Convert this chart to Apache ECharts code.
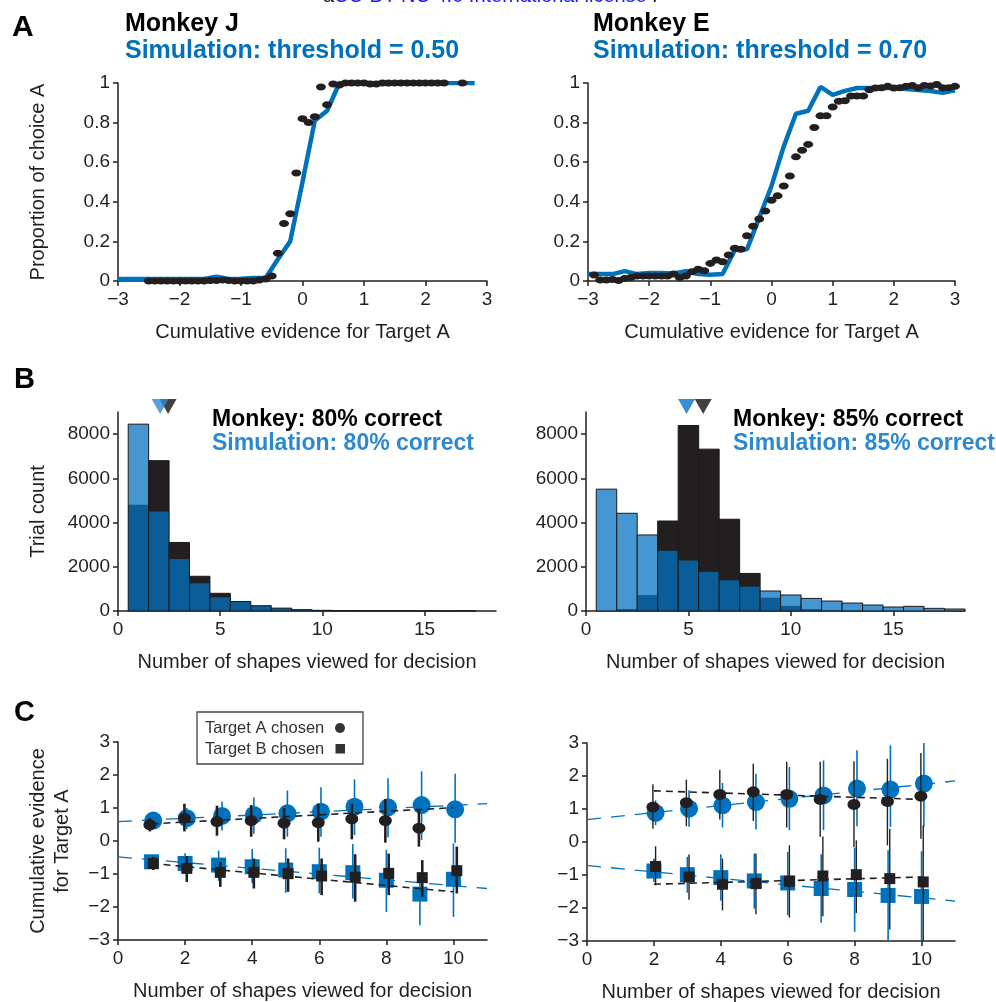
<!DOCTYPE html>
<html><head><meta charset="utf-8">
<script src="https://cdn.jsdelivr.net/npm/echarts@6/dist/echarts.min.js"></script>
<style>html,body{margin:0;padding:0;background:#fff}#c{width:996px;height:1002px}</style>
</head><body><div id="c"></div>
<script>
// ---------- Panel A: psychometric curves ----------
const aJ_simX = [-3,-2.8,-2.6,-2.4,-2.2,-2,-1.8,-1.6,-1.4,-1.2,-1,-0.8,-0.6,-0.4,-0.2,0,0.2,0.4,0.6,0.8,1,1.2,1.4,1.6,1.8,2,2.2,2.4,2.6,2.8];
const aJ_simY = [0.01,0.01,0.01,0.01,0.01,0.01,0.01,0.01,0.022,0.01,0.012,0.015,0.015,0.11,0.2,0.5,0.81,0.86,1,1,1,1,0.995,1,1,1,1,1,1,1];
const aJ_monX = [-2.5,-2.4,-2.3,-2.2,-2.1,-2,-1.9,-1.8,-1.7,-1.6,-1.5,-1.4,-1.3,-1.2,-1.1,-1,-0.9,-0.8,-0.7,-0.6,-0.5,-0.4,-0.3,-0.2,-0.1,0,0.1,0.2,0.3,0.4,0.5,0.6,0.7,0.8,0.9,1,1.1,1.2,1.3,1.4,1.5,1.6,1.7,1.8,1.9,2,2.1,2.2,2.3,2.6];
const aJ_monY = [0,0,0,0,0,0,0,0,0,0,0.003,0.003,0.005,0.003,0,0,0,0,0.005,0.01,0.025,0.14,0.29,0.34,0.545,0.82,0.8,0.83,0.98,0.89,0.995,0.99,1,1,1,1,0.995,0.995,1,1,1,1,1,1,1,1,1,1,1,1];

const aE_simX = [-3,-2.8,-2.6,-2.4,-2.2,-2,-1.8,-1.6,-1.4,-1.2,-1,-0.8,-0.6,-0.4,-0.2,0,0.2,0.4,0.6,0.8,1,1.2,1.4,1.6,1.8,2,2.2,2.4,2.6,2.8,3];
const aE_simY = [0.035,0.035,0.035,0.05,0.035,0.04,0.04,0.038,0.05,0.035,0.032,0.035,0.156,0.16,0.32,0.48,0.68,0.845,0.86,0.98,0.94,0.96,0.975,0.975,0.975,0.975,0.97,0.965,0.96,0.95,0.963];
const aE_monX = [-2.9,-2.8,-2.7,-2.6,-2.5,-2.4,-2.3,-2.2,-2.1,-2,-1.9,-1.8,-1.7,-1.6,-1.5,-1.4,-1.3,-1.2,-1.1,-1,-0.9,-0.8,-0.7,-0.6,-0.5,-0.4,-0.3,-0.2,-0.1,0,0.1,0.2,0.3,0.4,0.5,0.6,0.7,0.8,0.9,1,1.1,1.2,1.3,1.4,1.5,1.6,1.7,1.8,1.9,2,2.1,2.2,2.3,2.4,2.5,2.6,2.7,2.8,2.9,3];
const aE_monY = [0.03,0.005,0.005,0.008,0.002,0.013,0.018,0.025,0.025,0.025,0.025,0.025,0.025,0.035,0.018,0.025,0.047,0.059,0.052,0.089,0.106,0.097,0.131,0.165,0.16,0.229,0.277,0.313,0.353,0.408,0.43,0.48,0.53,0.627,0.66,0.69,0.775,0.834,0.834,0.879,0.908,0.91,0.934,0.934,0.934,0.966,0.975,0.976,0.983,0.975,0.976,0.983,0.988,0.976,0.988,0.985,0.992,0.976,0.976,0.983];

// ---------- Panel B: histograms ----------
const hJ_bins    = [1,2,3,4,5,6,7,8,9,10,11,12,13,14,15,16,17];
const hJ_monkey  = [4800,6800,3100,1570,800,420,240,130,60,30,20,15,10,8,5,5,5];
const hJ_sim     = [8450,4500,2350,1250,620,430,240,130,60,30,15,10,8,5,3,3,2];
const hJ_meanX   = [2.06,2.45];   // simulation, monkey
const hE_bins    = [1,2,3,4,5,6,7,8,9,10,11,12,13,14,15,16,17,18];
const hE_monkey  = [0,90,720,4070,8390,7320,4150,1700,600,230,90,40,25,15,10,5,5,5];
const hE_sim     = [5510,4420,3440,2730,2280,1770,1390,1100,905,725,570,450,360,270,180,210,120,90];
const hE_meanX   = [4.91,5.72];   // simulation, monkey
const meanMarkY  = 9250;

// ---------- Panel C: evidence vs number of shapes ----------
const cJ_simAx  = [1.05,2.05,3.1,4.05,5.05,6.05,7.05,8.05,9.05,10.05];
const cJ_simA   = [0.62,0.69,0.76,0.79,0.84,0.89,1.04,1.02,1.09,0.96];
const cJ_simAlo = [0.45,0.36,0.32,0.22,0.13,0.13,0.18,0.11,0.03,-0.05];
const cJ_simAhi = [0.80,1.00,1.19,1.32,1.53,1.63,1.87,1.90,2.11,2.04];
const cJ_monAx  = [0.95,1.98,2.95,3.97,4.95,5.97,6.97,7.97,8.97];
const cJ_monA   = [0.49,0.69,0.59,0.62,0.54,0.56,0.67,0.62,0.39];
const cJ_monAlo = [0.29,0.29,0.16,0.13,0.05,-0.02,0.05,-0.05,-0.17];
const cJ_monAhi = [0.69,1.13,1.07,1.09,1.00,1.13,1.13,1.27,0.94];
const cJ_simBx  = [1,2,3,4,5,6,7,8,9,10];
const cJ_simB   = [-0.63,-0.68,-0.73,-0.78,-0.88,-0.93,-0.96,-1.19,-1.61,-1.16];
const cJ_simBlo = [-0.84,-0.98,-1.21,-1.27,-1.57,-1.59,-1.74,-2.15,-2.55,-2.30];
const cJ_simBhi = [-0.48,-0.37,-0.29,-0.24,-0.22,-0.20,-0.09,-0.27,-0.96,-0.07];
const cJ_monBx  = [1.05,2.05,3.05,4.05,5.07,6.07,7.07,8.07,9.07,10.1];
const cJ_monB   = [-0.68,-0.83,-0.95,-0.95,-0.99,-1.06,-1.10,-0.98,-1.11,-0.90];
const cJ_monBlo = [-0.88,-1.24,-1.39,-1.44,-1.54,-1.64,-1.84,-1.64,-1.69,-1.59];
const cJ_monBhi = [-0.48,-0.46,-0.63,-0.53,-0.53,-0.53,-0.40,-0.38,-0.58,-0.17];
const cJ_monFitX = [1,10],  cJ_monFitA = [0.52,1.01],  cJ_monFitB = [-0.68,-1.54];
const cJ_simFitX = [0,11],  cJ_simFitA = [0.59,1.13],  cJ_simFitB = [-0.48,-1.44];

const cE_simAx  = [2.05,3.05,4.05,5.05,6.05,7.07,8.07,9.07,10.07];
const cE_simA   = [0.88,1.01,1.11,1.21,1.31,1.41,1.62,1.59,1.77];
const cE_simAlo = [0.51,0.46,0.44,0.38,0.36,0.36,0.48,0.46,0.46];
const cE_simAhi = [1.26,1.57,1.79,2.07,2.27,2.47,2.78,2.93,3.0];
const cE_monAx  = [1.97,2.97,3.97,4.97,5.97,6.97,7.98,8.98,9.98];
const cE_monA   = [1.06,1.19,1.44,1.52,1.44,1.29,1.14,1.23,1.39];
const cE_monAlo = [0.40,0.48,0.68,0.64,0.44,0.15,-0.15,-0.10,0.10];
const cE_monAhi = [1.75,1.89,2.19,2.37,2.43,2.43,2.45,2.52,2.70];
const cE_simBx  = [2,3,4,5,6,7,8,9,10];
const cE_simB   = [-0.88,-0.99,-1.08,-1.18,-1.24,-1.41,-1.44,-1.62,-1.65];
const cE_simBlo = [-1.21,-1.54,-1.78,-2.02,-2.22,-2.45,-2.72,-3.0,-3.0];
const cE_simBhi = [-0.50,-0.45,-0.37,-0.35,-0.30,-0.37,-0.17,-0.25,-0.28];
const cE_monBx  = [2.05,3.05,4.05,5.05,6.05,7.05,8.05,9.05,10.05];
const cE_monB   = [-0.74,-1.06,-1.28,-1.26,-1.19,-1.03,-0.99,-1.11,-1.21];
const cE_monBlo = [-1.31,-1.75,-2.07,-2.19,-2.29,-2.25,-2.15,-2.65,-3.0];
const cE_monBhi = [-0.13,-0.38,-0.50,-0.35,-0.10,0.17,0.05,0.40,0.50];
const cE_monFitX = [2,10],  cE_monFitA = [1.55,1.29],  cE_monFitB = [-1.28,-1.06];
const cE_simFitX = [0,11],  cE_simFitA = [0.68,1.85],  cE_simFitB = [-0.71,-1.79];

// ---------- tick values ----------
const ticksA_x = [-3,-2,-1,0,1,2,3];
const ticksA_y = [0,0.2,0.4,0.6,0.8,1];
const ticksB_x = [0,5,10,15];
const ticksB_y = [0,2000,4000,6000,8000];
const ticksC_x = [0,2,4,6,8,10];
const ticksC_y = [-3,-2,-1,0,1,2,3];

// ---------- styling ----------
const FONT = '"Liberation Sans", Arial, Helvetica, sans-serif';
const INK = '#231f20';
const SIM = '#0072bd';
const SIM_LIGHT = '#4696d1';
const SIM_DARK = '#0b5d97';
const SIM_TEXT = '#2b89d2';

const zip = (xs, ys) => xs.map((x, i) => [x, ys[i]]);
const zip3 = (xs, a, b) => xs.map((x, i) => [x, a[i], b[i]]);
const fmt = v => (v < 0 ? '\u2212' + Math.abs(v) : String(v));

function xAx(gi, min, max, ticks, name) {
  return {
    type: 'value', gridIndex: gi, min, max,
    axisLine: { show: true, onZero: false, lineStyle: { color: INK, width: 1.5 } },
    axisTick: { show: true, inside: false, length: 5, customValues: ticks, lineStyle: { color: INK, width: 1.5 } },
    axisLabel: { show: true, customValues: ticks, formatter: fmt, fontSize: 19, fontFamily: FONT, color: INK, margin: 9 },
    splitLine: { show: false },
    name: name || '', nameLocation: 'middle', nameGap: 41,
    nameTextStyle: { fontSize: 20, fontFamily: FONT, color: INK }
  };
}
function yAx(gi, min, max, ticks, name, gap) {
  return {
    type: 'value', gridIndex: gi, min, max,
    axisLine: { show: true, onZero: false, lineStyle: { color: INK, width: 1.5 } },
    axisTick: { show: true, inside: false, length: 5, customValues: ticks, lineStyle: { color: INK, width: 1.5 } },
    axisLabel: { show: true, customValues: ticks, formatter: fmt, fontSize: 19, fontFamily: FONT, color: INK, margin: 8 },
    splitLine: { show: false },
    name: name || '', nameLocation: 'middle', nameGap: gap || 70,
    nameTextStyle: { fontSize: 20, fontFamily: FONT, color: INK, lineHeight: 24 }
  };
}

function histSeries(gi, bins, mon, sim) {
  return {
    type: 'custom', xAxisIndex: gi, yAxisIndex: gi, clip: false, z: 2,
    data: zip3(bins, mon, sim),
    encode: { x: 0, y: [1, 2] },
    renderItem: function (params, api) {
      const x = api.value(0), m = api.value(1), s = api.value(2);
      const big = Math.max(m, s), small = Math.min(m, s);
      const tl = api.coord([x - 0.5, big]), br = api.coord([x + 0.5, 0]);
      const ts = api.coord([x - 0.5, small]);
      return {
        type: 'group', children: [
          { type: 'rect', shape: { x: tl[0], y: tl[1], width: br[0] - tl[0], height: br[1] - tl[1] }, style: { fill: m > s ? INK : SIM_LIGHT } },
          { type: 'rect', shape: { x: ts[0], y: ts[1], width: br[0] - ts[0], height: br[1] - ts[1] }, style: { fill: SIM_DARK } },
          { type: 'rect', shape: { x: tl[0], y: tl[1], width: br[0] - tl[0], height: br[1] - tl[1] }, style: { fill: 'none', stroke: '#1a1a1a', lineWidth: 1 } }
        ]
      };
    }
  };
}
function meanMarks(gi, xs) {
  return [
    { type: 'scatter', xAxisIndex: gi, yAxisIndex: gi, clip: false, z: 5, symbol: 'triangle', symbolRotate: 180, symbolSize: [17, 15],
      data: [[xs[1], meanMarkY]], itemStyle: { color: '#111' } },
    { type: 'scatter', xAxisIndex: gi, yAxisIndex: gi, clip: false, z: 6, symbol: 'triangle', symbolRotate: 180, symbolSize: [17, 15],
      data: [[xs[0], meanMarkY]], itemStyle: { color: gi === 2 ? '#2f87cf' : '#0a72c0' } }
  ];
}
function errSeries(gi, xs, lo, hi, color, width, z) {
  return {
    type: 'custom', xAxisIndex: gi, yAxisIndex: gi, z,
    data: zip3(xs, lo, hi), encode: { x: 0, y: [1, 2] },
    renderItem: function (params, api) {
      const x = api.value(0);
      const p1 = api.coord([x, api.value(1)]), p2 = api.coord([x, api.value(2)]);
      return { type: 'line', shape: { x1: p1[0], y1: p1[1], x2: p2[0], y2: p2[1] }, style: { stroke: color, lineWidth: width } };
    }
  };
}
function pts(gi, xs, ys, symbol, size, color, z) {
  return { type: 'scatter', xAxisIndex: gi, yAxisIndex: gi, z, symbol, symbolSize: size, clip: false,
    data: zip(xs, ys), itemStyle: { color, opacity: 1 } };
}
function fit(gi, xs, ys, color, width, dash, z) {
  return { type: 'line', xAxisIndex: gi, yAxisIndex: gi, z, showSymbol: false, symbol: 'none',
    data: zip(xs, ys), lineStyle: { color, width, type: dash } };
}
function panelC(gi, d, blackErrW) {
  return [
    errSeries(gi, d.simAx, d.simAlo, d.simAhi, SIM, 1.6, 2),
    errSeries(gi, d.simBx, d.simBlo, d.simBhi, SIM, 1.6, 2),
    pts(gi, d.simAx, d.simA, 'circle', 18, SIM, 3),
    pts(gi, d.simBx, d.simB, 'rect', 15, SIM, 3),
    fit(gi, d.simFitX, d.simFitA, SIM, 1.3, [14, 10], 4),
    fit(gi, d.simFitX, d.simFitB, SIM, 1.3, [14, 10], 4),
    errSeries(gi, d.monAx, d.monAlo, d.monAhi, INK, blackErrW, 5),
    errSeries(gi, d.monBx, d.monBlo, d.monBhi, INK, blackErrW, 5),
    pts(gi, d.monAx, d.monA, 'circle', [13, 11], INK, 6),
    pts(gi, d.monBx, d.monB, 'rect', 11, INK, 6),
    fit(gi, d.monFitX, d.monFitA, INK, 1.6, [7, 5], 7),
    fit(gi, d.monFitX, d.monFitB, INK, 1.6, [7, 5], 7)
  ];
}

const chart = echarts.init(document.getElementById('c'), null, { renderer: 'canvas' });
const txt = (text, x, y, size, color, weight, align) => ({
  type: 'text', x, y, z: 100,
  style: { text, fill: color, fontSize: size, fontWeight: weight || 'normal', fontFamily: FONT, align: align || 'left', verticalAlign: 'middle' }
});

const option = {
  backgroundColor: '#ffffff',
  animation: false,
  grid: [
    { left: 118, top: 83, width: 369, height: 198, outerBoundsMode: 'none' },
    { left: 588, top: 83, width: 367, height: 198, outerBoundsMode: 'none' },
    { left: 118, top: 412, width: 378, height: 199, outerBoundsMode: 'none' },
    { left: 586, top: 412, width: 379, height: 199, outerBoundsMode: 'none' },
    { left: 118, top: 742, width: 369, height: 198, outerBoundsMode: 'none' },
    { left: 587, top: 743, width: 368, height: 198, outerBoundsMode: 'none' }
  ],
  xAxis: [
    xAx(0, -3, 3, ticksA_x, 'Cumulative evidence for Target A'),
    xAx(1, -3, 3, ticksA_x, 'Cumulative evidence for Target A'),
    xAx(2, 0, 18.5, ticksB_x, 'Number of shapes viewed for decision'),
    xAx(3, 0, 18.5, ticksB_x, 'Number of shapes viewed for decision'),
    xAx(4, 0, 11, ticksC_x, 'Number of shapes viewed for decision'),
    xAx(5, 0, 11, ticksC_x, 'Number of shapes viewed for decision')
  ],
  yAxis: [
    yAx(0, 0, 1, ticksA_y, 'Proportion of choice A', 68),
    yAx(1, 0, 1, ticksA_y, ''),
    yAx(2, 0, 9000, ticksB_y, 'Trial count', 68),
    yAx(3, 0, 9000, ticksB_y, ''),
    yAx(4, -3, 3, ticksC_y, 'Cumulative evidence\nfor Target A', 44),
    yAx(5, -3, 3, ticksC_y, '')
  ],
  series: [
    { type: 'line', xAxisIndex: 0, yAxisIndex: 0, z: 2, showSymbol: false, symbol: 'none', data: zip(aJ_simX, aJ_simY), lineStyle: { color: SIM, width: 4.5 } },
    { type: 'scatter', xAxisIndex: 0, yAxisIndex: 0, z: 3, clip: false, symbol: 'circle', symbolSize: [10, 7], data: zip(aJ_monX, aJ_monY), itemStyle: { color: INK, opacity: 1 } },
    { type: 'line', xAxisIndex: 1, yAxisIndex: 1, z: 2, showSymbol: false, symbol: 'none', data: zip(aE_simX, aE_simY), lineStyle: { color: SIM, width: 4.5 } },
    { type: 'scatter', xAxisIndex: 1, yAxisIndex: 1, z: 3, clip: false, symbol: 'circle', symbolSize: [10, 7], data: zip(aE_monX, aE_monY), itemStyle: { color: INK, opacity: 1 } },
    histSeries(2, hJ_bins, hJ_monkey, hJ_sim),
    histSeries(3, hE_bins, hE_monkey, hE_sim),
    ...meanMarks(2, hJ_meanX),
    ...meanMarks(3, hE_meanX),
    ...panelC(4, {
      simAx: cJ_simAx, simA: cJ_simA, simAlo: cJ_simAlo, simAhi: cJ_simAhi,
      simBx: cJ_simBx, simB: cJ_simB, simBlo: cJ_simBlo, simBhi: cJ_simBhi,
      monAx: cJ_monAx, monA: cJ_monA, monAlo: cJ_monAlo, monAhi: cJ_monAhi,
      monBx: cJ_monBx, monB: cJ_monB, monBlo: cJ_monBlo, monBhi: cJ_monBhi,
      simFitX: cJ_simFitX, simFitA: cJ_simFitA, simFitB: cJ_simFitB,
      monFitX: cJ_monFitX, monFitA: cJ_monFitA, monFitB: cJ_monFitB
    }, 2.6),
    ...panelC(5, {
      simAx: cE_simAx, simA: cE_simA, simAlo: cE_simAlo, simAhi: cE_simAhi,
      simBx: cE_simBx, simB: cE_simB, simBlo: cE_simBlo, simBhi: cE_simBhi,
      monAx: cE_monAx, monA: cE_monA, monAlo: cE_monAlo, monAhi: cE_monAhi,
      monBx: cE_monBx, monB: cE_monB, monBlo: cE_monBlo, monBhi: cE_monBhi,
      simFitX: cE_simFitX, simFitA: cE_simFitA, simFitB: cE_simFitB,
      monFitX: cE_monFitX, monFitA: cE_monFitA, monFitB: cE_monFitB
    }, 1.4)
  ],
  graphic: [
    txt('a', 323, -4, 20, '#222'),
    txt('CC-BY-NC 4.0 International license', 334, -4, 20, '#1a1aff'),
    txt('.', 652, -4, 20, '#222'),
    txt('A', 12, 28, 30, '#000', 'bold'),
    txt('B', 14, 380, 29, '#000', 'bold'),
    txt('C', 14, 713, 29, '#000', 'bold'),
    txt('Monkey J', 125, 24, 25, '#000', 'bold'),
    txt('Simulation: threshold = 0.50', 125, 51, 25, SIM, 'bold'),
    txt('Monkey E', 593, 24, 25, '#000', 'bold'),
    txt('Simulation: threshold = 0.70', 593, 51, 25, SIM, 'bold'),
    txt('Monkey: 80% correct', 212, 420, 23, '#000', 'bold'),
    txt('Simulation: 80% correct', 212, 444, 23, SIM_TEXT, 'bold'),
    txt('Monkey: 85% correct', 733, 420, 23, '#000', 'bold'),
    txt('Simulation: 85% correct', 733, 444, 23, SIM_TEXT, 'bold'),
    { type: 'rect', z: 99, shape: { x: 197, y: 712, width: 166, height: 52 }, style: { fill: '#fff', stroke: '#444', lineWidth: 1.3 } },
    txt('Target A chosen', 205, 728, 16.5, '#333'),
    txt('Target B chosen', 205, 749, 16.5, '#333'),
    { type: 'circle', z: 100, shape: { cx: 340, cy: 728, r: 5 }, style: { fill: '#333' } },
    { type: 'rect', z: 100, shape: { x: 335.5, y: 744, width: 9.5, height: 9.5 }, style: { fill: '#333' } }
  ]
};
chart.setOption(option);
</script>
</body></html>
